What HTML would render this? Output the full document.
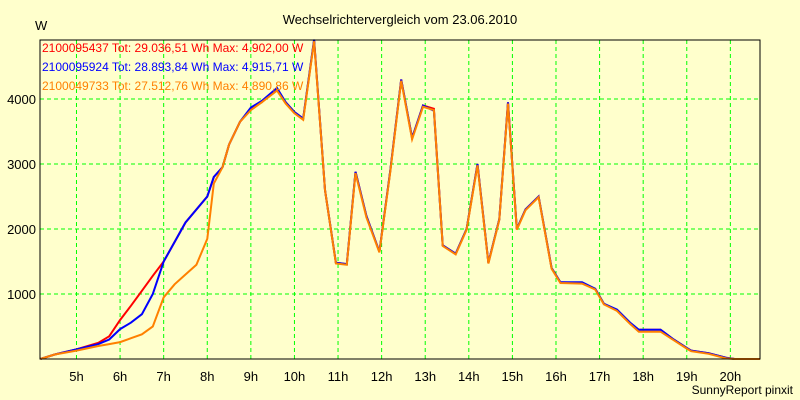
<!DOCTYPE html>
<html><head><meta charset="utf-8"><style>
body{margin:0;background:#ffffcc;}
svg{display:block;font-family:"Liberation Sans",sans-serif;}
</style></head><body>
<svg id="chart" width="800" height="400">
<rect x="0" y="0" width="800" height="400" fill="#ffffcc"/>
<text x="400" y="24" text-anchor="middle" font-size="13">Wechselrichtervergleich vom 23.06.2010</text>
<text x="35" y="30" font-size="13">W</text>
<g id="grid"></g>
<g id="series"></g>
<rect x="40" y="40" width="720" height="319" fill="none" stroke="#000" stroke-width="1"/>
<g id="labels"></g>
<text x="42" y="52" font-size="12" fill="#ff0000">2100095437 Tot: 29.036,51 Wh Max: 4.902,00 W</text>
<text x="42" y="71" font-size="12" fill="#0000ff">2100095924 Tot: 28.893,84 Wh Max: 4.915,71 W</text>
<text x="42" y="90" font-size="12" fill="#ff8000">2100049733 Tot: 27.512,76 Wh Max: 4.890,86 W</text>
<text x="793" y="394" text-anchor="end" font-size="12">SunnyReport pinxit</text>
</svg>
<script>
const hours = [4.17,4.5,5,5.5,5.75,6,6.25,6.5,6.75,7,7.25,7.5,7.75,8,8.15,8.35,8.5,8.75,9,9.25,9.6,9.8,10,10.2,10.45,10.7,10.95,11.2,11.4,11.65,11.95,12.2,12.45,12.7,12.95,13.2,13.4,13.7,13.95,14.2,14.45,14.7,14.9,15.1,15.3,15.6,15.9,16.1,16.6,16.9,17.1,17.4,17.7,17.9,18.4,18.7,19.0,19.1,19.5,19.9,20.1,20.68];
const redVals = [0,70,150,250,350,600,820,1050,1280,1500,1800,2100,2300,2500,2800,2950,3300,3650,3850,3950,4150,3950,3800,3700,4902,2600,1480,1460,2880,2200,1650,2900,4300,3400,3900,3850,1750,1620,2000,3000,1480,2150,3950,2000,2300,2500,1400,1180,1170,1080,850,750,550,450,450,300,170,130,90,20,0,0];
const blueVals = [0,70,150,230,300,460,560,690,1000,1500,1800,2100,2300,2500,2800,2950,3300,3650,3870,3970,4170,3950,3800,3700,4915,2600,1480,1460,2880,2200,1650,2900,4300,3400,3900,3820,1750,1620,2000,3000,1480,2150,3950,2000,2300,2500,1400,1180,1180,1080,850,760,560,450,450,300,170,130,90,20,0,0];
const orangeVals = [0,70,130,200,230,260,320,380,500,950,1150,1300,1450,1850,2700,2950,3300,3650,3830,3950,4130,3930,3780,3680,4890,2600,1470,1450,2860,2180,1640,2880,4280,3380,3880,3830,1740,1610,1990,2980,1470,2140,3930,1990,2290,2490,1390,1170,1160,1070,840,740,540,420,420,290,160,120,80,10,0,0];
const yTicks = [1000,2000,3000,4000];
const xTicks = [5,6,7,8,9,10,11,12,13,14,15,16,17,18,19,20];
const NS='http://www.w3.org/2000/svg';
const X0=40,X1=760,Y0=359,Y1=40,HMIN=4.163,HMAX=20.68,VMAX=4908;
function xs(h){return X0+(h-HMIN)/(HMAX-HMIN)*(X1-X0);}
function ys(v){return Y0-v/VMAX*(Y0-Y1);}
const grid=document.getElementById('grid'),labels=document.getElementById('labels'),series=document.getElementById('series');
xTicks.forEach(h=>{
  const l=document.createElementNS(NS,'line');
  l.setAttribute('x1',xs(h));l.setAttribute('x2',xs(h));l.setAttribute('y1',Y1);l.setAttribute('y2',Y0);
  l.setAttribute('stroke','#00ff00');l.setAttribute('stroke-dasharray','4,3');
  
  
  grid.appendChild(l);
  const t=document.createElementNS(NS,'text');
  t.setAttribute('x',xs(h));t.setAttribute('y',381);t.setAttribute('text-anchor','middle');t.setAttribute('font-size','13');
  t.textContent=h+'h';
  
  
  labels.appendChild(t);
});
yTicks.forEach(v=>{
  const l=document.createElementNS(NS,'line');
  l.setAttribute('x1',X0);l.setAttribute('x2',X1);l.setAttribute('y1',ys(v));l.setAttribute('y2',ys(v));
  l.setAttribute('stroke','#00ff00');l.setAttribute('stroke-dasharray','4,3');
  
  
  grid.appendChild(l);
  const t=document.createElementNS(NS,'text');
  t.setAttribute('x',36);t.setAttribute('y',ys(v)+5);t.setAttribute('text-anchor','end');t.setAttribute('font-size','13');
  t.textContent=v;
  
  
  labels.appendChild(t);
});
function drawLine(vals,color,name){
  const p=document.createElementNS(NS,'polyline');
  p.setAttribute('points',hours.map((h,i)=>xs(h).toFixed(1)+','+ys(vals[i]).toFixed(1)).join(' '));
  p.setAttribute('fill','none');p.setAttribute('stroke',color);p.setAttribute('stroke-width','2');
  
  
  series.appendChild(p);
}
drawLine(redVals,'#ff0000','series-2100095437');
drawLine(blueVals,'#0000ff','series-2100095924');
drawLine(orangeVals,'#ff8000','series-2100049733');
</script>
</body></html>
